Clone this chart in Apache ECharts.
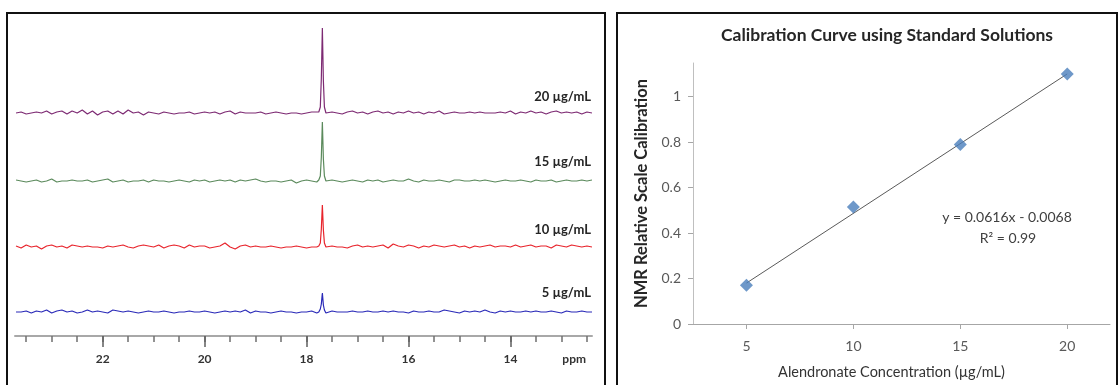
<!DOCTYPE html>
<html>
<head>
<meta charset="utf-8">
<script src="https://cdn.jsdelivr.net/npm/echarts@6/dist/echarts.min.js"></script>
<style>
  html, body { margin: 0; padding: 0; background: #fff; }
  #chart { width: 1120px; height: 385px; }
</style>
</head>
<body>
<div id="chart"></div>
<script>
// ---- 31P NMR spectra: intensity (a.u.) sampled every 0.1 ppm from 23.7 down to 12.4 ----
const shiftStart = 23.7;
const shiftStep = 0.1;
const concLabels = ['20 µg/mL', '15 µg/mL', '10 µg/mL', '5 µg/mL'];

// baseline noise of each spectrum (null where the alendronate peak is drawn)
const base20 = [0,1,-1,0,1,0,2,-1,1,2,
  -1,2,0,3,-1,2,-2,1,2,-1,
  2,-1,3,0,1,-2,1,0,-1,1,
  0,-1,0,0,1,-1,0,1,0,1,
  -1,1,2,-1,1,0,0,0,1,-1,
  0,1,0,-1,0,0,-1,0,1,1,
  null,-1,1,0,-1,1,2,0,1,-1,
  1,2,0,1,-1,1,0,2,0,1,
  -1,1,0,2,-1,0,1,0,0,1,
  0,1,0,0,0,1,0,2,-1,1,
  0,2,0,1,-1,1,2,0,1,0,
  1,-1,1,0];
const base15 = [1,0,-1,0,1,-1,0,2,-1,0,
  0,1,0,0,1,-1,0,1,2,-1,
  0,1,-1,0,0,1,-1,1,0,0,
  -1,0,1,0,-1,1,0,1,-1,0,
  1,0,1,-1,1,0,1,2,0,-1,
  0,0,-1,0,1,-2,0,1,0,-1,
  null,0,1,0,-1,0,1,0,-1,1,
  0,1,-1,0,1,0,0,2,0,-1,
  1,0,0,1,0,-1,1,1,0,0,
  1,0,1,0,-1,0,1,0,0,1,
  0,-1,1,0,0,1,-1,0,1,0,
  0,1,0,1];
const base10 = [1,-1,2,0,1,-2,1,2,0,1,
  -1,2,1,0,1,0,0,-1,1,0,
  1,2,0,-1,1,2,1,0,2,-1,
  1,2,1,-1,2,0,1,1,-1,0,
  1,4,0,-2,1,2,0,1,0,0,
  1,0,-1,0,0,1,0,-1,0,0,
  null,0,1,0,0,-1,1,2,0,1,
  0,1,2,-1,3,1,0,2,1,-1,
  1,0,2,1,0,1,2,0,1,-1,
  1,0,1,2,0,1,1,0,2,0,
  1,2,0,1,1,-1,2,1,0,2,
  1,0,1,0];
const base5 = [0,0,1,-1,1,0,2,-1,1,2,
  0,1,-1,0,2,0,1,0,-1,2,
  1,0,1,0,-1,0,1,0,0,1,
  0,-1,0,0,1,0,0,1,0,-1,
  0,1,0,1,0,2,-1,1,0,0,
  -1,0,1,0,0,-1,0,0,1,-1,
  null,0,1,0,0,0,1,0,0,1,
  0,0,1,0,1,0,0,-1,1,0,
  0,1,0,0,2,1,0,-1,1,0,
  1,0,2,0,-1,1,0,1,0,0,
  1,0,1,0,0,1,0,-1,1,0,
  0,1,0,0];

// alendronate signal near 17.7 ppm: [shift, intensity]
const peak20 = [[17.76,1],[17.73,6],[17.71,35],[17.69,85],[17.67,32],[17.65,6],[17.62,0]];
const peak15 = [[17.76,1],[17.73,5],[17.71,24],[17.69,59],[17.67,22],[17.65,5],[17.62,0]];
const peak10 = [[17.76,1],[17.73,4],[17.71,18],[17.69,42],[17.67,17],[17.65,4],[17.62,0]];
const peak5  = [[17.76,0],[17.73,3],[17.71,8],[17.69,19],[17.67,7],[17.65,2],[17.62,-1]];

const shiftMajor = [22, 20, 18, 16, 14];
const shiftMinor = [23.5,23,22.5,22,21.5,21,20.5,20,19.5,19,18.5,18,17.5,17,16.5,16,15.5,15,14.5,14,13.5,13,12.5];
const unitLabelAt = 12.75;

// ---- calibration curve ----
const concX = [5, 10, 15, 20];
const nmrY = [0.17, 0.515, 0.79, 1.10];
const trendLine = [[5, 0.18], [20, 1.10]];
const xTicks = [5, 10, 15, 20];
const yTicks = [0, 0.2, 0.4, 0.6, 0.8, 1];
const equationText = 'y = 0.0616x - 0.0068';
const r2Text = 'R² = 0.99';

const FONT = 'Lato, "Open Sans", sans-serif';

function spectrum(base, peak) {
  const pts = [];
  base.forEach((v, i) => {
    if (v !== null) pts.push([+(shiftStart - i * shiftStep).toFixed(2), v]);
  });
  return pts.concat(peak).sort((a, b) => b[0] - a[0]);
}

const traces = [
  { base: base20, peak: peak20, color: '#7d2a73' },
  { base: base15, peak: peak15, color: '#5b8a5c' },
  { base: base10, peak: peak10, color: '#e8242c' },
  { base: base5,  peak: peak5,  color: '#2a2ab8' }
];
const traceTops = [63, 131, 197, 262];
const labelY = [97, 162, 230, 293];

const grids = traceTops.map(t => ({ left: 15, right: 528, top: t, height: 60 }));
grids.push({ left: 693, right: 10, top: 63, bottom: 57 });

const xAxes = [];
const yAxes = [];
for (let i = 0; i < 4; i++) {
  xAxes.push({
    type: 'value', gridIndex: i, inverse: true, min: 12.4, max: 23.72,
    show: i === 3, position: 'bottom', offset: 14,
    axisLine: { show: true, onZero: false, lineStyle: { color: '#a8a8a8', width: 2 } },
    axisTick: { show: true, customValues: shiftMinor, length: 6, lineStyle: { color: '#6f6f6f', width: 1.5 } },
    axisLabel: { show: false },
    splitLine: { show: false }
  });
  yAxes.push({ type: 'value', gridIndex: i, min: -10, max: 50, show: false, splitLine: { show: false } });
}
// major shift ticks and labels
xAxes.push({
  type: 'value', gridIndex: 3, inverse: true, min: 12.4, max: 23.72,
  position: 'bottom', offset: 14,
  axisLine: { show: false, onZero: false },
  axisTick: { show: true, customValues: shiftMajor, length: 11, lineStyle: { color: '#5f5f5f', width: 1.5 } },
  axisLabel: {
    customValues: shiftMajor.concat([unitLabelAt]),
    formatter: v => (v === unitLabelAt ? 'ppm' : String(v)),
    margin: 17, fontSize: 12, fontWeight: 'bold', color: '#333', fontFamily: FONT
  },
  splitLine: { show: false }
});
// calibration axes
xAxes.push({
  type: 'value', gridIndex: 4, min: 2.5, max: 22,
  axisLine: { show: true, lineStyle: { color: '#a6a6a6', width: 1 } },
  axisTick: { show: true, customValues: xTicks, length: 5, lineStyle: { color: '#a6a6a6' } },
  axisLabel: { customValues: xTicks, margin: 15, fontSize: 14, color: '#595959', fontFamily: FONT },
  splitLine: { show: false },
  name: 'Alendronate Concentration (µg/mL)', nameLocation: 'middle', nameGap: 41,
  nameTextStyle: { fontSize: 14.5, color: '#333', fontFamily: FONT, padding: [0, 20, 0, 0] }
});
yAxes.push({
  type: 'value', gridIndex: 4, min: 0, max: 1.148,
  axisLine: { show: true, lineStyle: { color: '#bfbfbf', width: 1 } },
  axisTick: { show: true, customValues: yTicks, length: 5, lineStyle: { color: '#a6a6a6' } },
  axisLabel: { customValues: yTicks, margin: 12, fontSize: 14, color: '#595959', fontFamily: FONT },
  splitLine: { show: false },
  name: 'NMR Relative Scale Calibration', nameLocation: 'middle', nameGap: 43,
  nameTextStyle: { fontSize: 16.5, fontWeight: 'bold', color: '#262626', fontFamily: FONT }
});

const series = traces.map((t, i) => ({
  type: 'line', xAxisIndex: i, yAxisIndex: i,
  data: spectrum(t.base, t.peak),
  symbol: 'none', clip: false, silent: true,
  lineStyle: { color: t.color, width: 1.2 }
}));
series.push({
  type: 'line', xAxisIndex: 5, yAxisIndex: 4, data: trendLine,
  symbol: 'none', lineStyle: { color: '#5a5a5a', width: 1 }, z: 2
});
series.push({
  type: 'scatter', xAxisIndex: 5, yAxisIndex: 4,
  data: concX.map((x, i) => [x, nmrY[i]]),
  symbol: 'diamond', symbolSize: 13,
  itemStyle: { color: '#4a7ebb' }, z: 3
});

const graphics = [
  { type: 'rect', shape: { x: 7, y: 13, width: 598, height: 380 },
    style: { fill: 'none', stroke: '#111', lineWidth: 2 }, z: 10 },
  { type: 'rect', shape: { x: 617, y: 13, width: 500, height: 380 },
    style: { fill: 'none', stroke: '#111', lineWidth: 2 }, z: 10 },
  { type: 'text', x: 1007, y: 217,
    style: { text: equationText, fill: '#404040', font: '14px ' + FONT, align: 'center', verticalAlign: 'middle' } },
  { type: 'text', x: 1008, y: 238,
    style: { text: r2Text, fill: '#404040', font: '14px ' + FONT, align: 'center', verticalAlign: 'middle' } }
];
concLabels.forEach((txt, i) => {
  graphics.push({
    type: 'text', x: 591, y: labelY[i],
    style: { text: txt, fill: '#262626', font: 'bold 13px ' + FONT, align: 'right', verticalAlign: 'middle' }
  });
});

const chart = echarts.init(document.getElementById('chart'), null, { renderer: 'canvas' });
chart.setOption({
  animation: false,
  backgroundColor: '#fff',
  title: {
    text: 'Calibration Curve using Standard Solutions',
    left: 887, top: 26, textAlign: 'center', padding: 0,
    textStyle: { fontSize: 17.5, fontWeight: 'bold', color: '#262626', fontFamily: FONT }
  },
  grid: grids,
  xAxis: xAxes,
  yAxis: yAxes,
  series: series,
  graphic: graphics
});
</script>
</body>
</html>
